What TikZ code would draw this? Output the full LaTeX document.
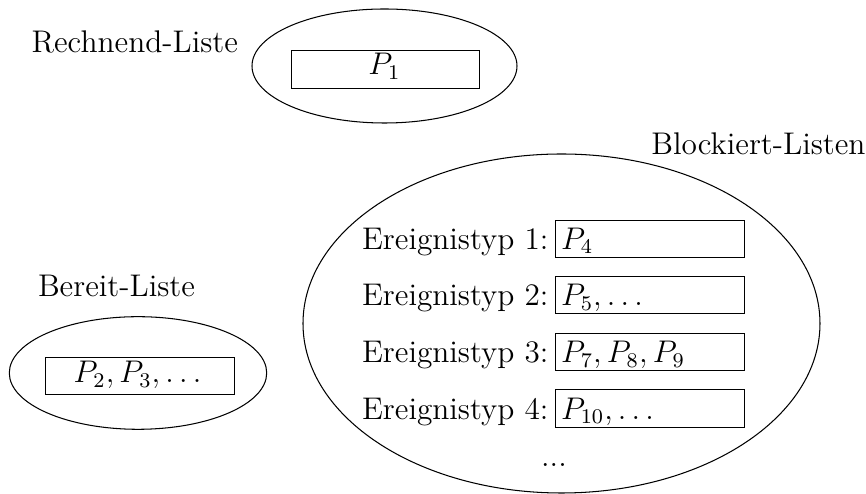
\documentclass[tikz,border=0pt]{standalone}
\usetikzlibrary{shapes.geometric}

% one unit = one pixel of the layout grid (origin top left, y downwards)
\newcommand{\pxu}{0.383pt}
\tikzset{
  x=\pxu, y=-\pxu,
  every node/.style={font=\fontsize{12}{14.5}\selectfont},
  listring/.style={draw, ellipse, inner sep=0pt},
  slot/.style={draw, rectangle, inner sep=0pt,
    minimum width={188.8*\pxu}, minimum height={37.3*\pxu}},
  caption/.style={inner sep=0pt},
}

\begin{document}
\begin{tikzpicture}
\useasboundingbox (0,0) rectangle (866,494);

% running list
\node[caption, anchor=base west] (rechnendtitle) at (31,53) {Rechnend-Liste};
\node[listring, minimum width={265*\pxu}, minimum height={114*\pxu}] (rechnend) at (384.5,66) {};
\node[slot] (slotP1) at (385.5,69.5) {};
\node[caption, anchor=base] (textP1) at (384.5,75) {$P_1$};

% ready list
\node[caption, anchor=base west] (bereittitle) at (37.5,297) {Bereit-Liste};
\node[listring, minimum width={257.4*\pxu}, minimum height={112.6*\pxu}] (bereit) at (138,373) {};
\node[slot] (slotP2) at (139.7,376) {};
\node[caption, anchor=base] (textP2) at (137.5,383) {$P_2, P_3, \ldots$};

% blocked lists, one per event type
\node[caption, anchor=base east] (blocktitle) at (866,155) {Blockiert-Listen};
\node[listring, minimum width={517*\pxu}, minimum height={339*\pxu}] (blockiert) at (561.5,323.5) {};

\foreach \k/\content in {1/{P_4}, 2/{P_5, \ldots}, 3/{P_7, P_8, P_9}, 4/{P_{10}, \ldots}} {
  \pgfmathsetmacro{\yb}{249.3+(\k-1)*56.6}
  \pgfmathsetmacro{\yc}{238.7+(\k-1)*56.6}
  \node[slot] (slot\k) at (650,\yc) {};
  \node[caption, anchor=base east] (typ\k) at (549,\yb) {Ereignistyp \k:};
  \node[caption, anchor=base west] (inhalt\k) at (560.5,\yb) {$\content$};
}

\node[caption, anchor=base] (weitere) at (554,467) {...};
\end{tikzpicture}
\end{document}
